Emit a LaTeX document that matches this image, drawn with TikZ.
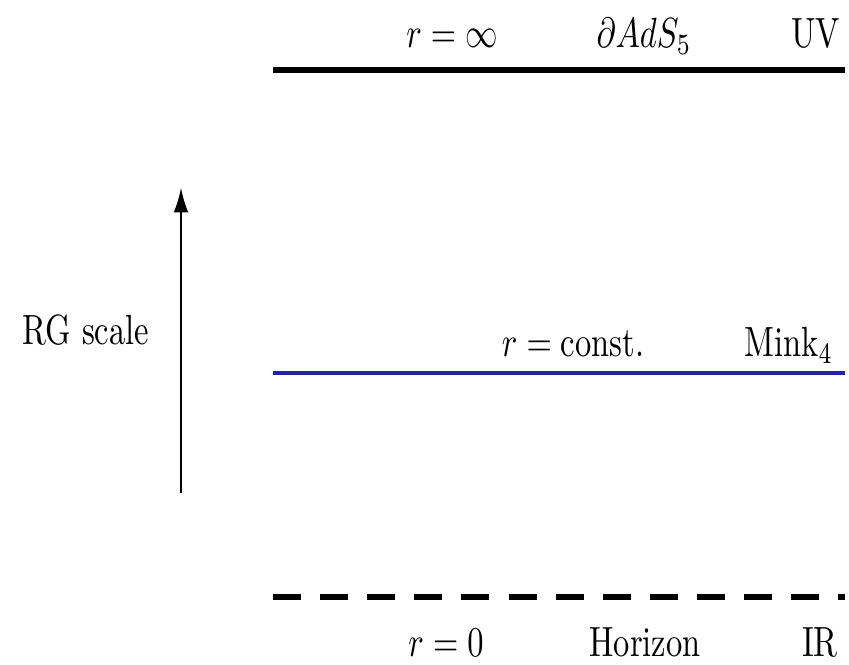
\documentclass[tikz,border=0pt]{standalone}
\usepackage{amsmath,amssymb}
\usepackage{tikz}
\usepackage{xcolor}
\usetikzlibrary{arrows.meta}
\definecolor{minkblue}{RGB}{35,35,170}
\begin{document}
\begin{tikzpicture}[x=0.3077pt, y=-0.3077pt,
  lbl/.style={inner sep=0pt, anchor=base, yscale=1.3},
  brane/.style={line width=1.8pt},
  rgarrow/.style={line width=0.45pt, -{Latex[length=7.5pt,width=4.5pt]}}]
\useasboundingbox (0,0) rectangle (849,665);
% boundary
\coordinate (uvl) at (273,70);
\coordinate (uvr) at (845,70);
\draw[brane] (uvl) -- (uvr);
\node[lbl] (rinf) at (452,48) {$r=\infty$};
\node[lbl] (bdry) at (644,48) {$\partial AdS_5$};
\node[lbl] (uv) at (816,48) {UV};
% cutoff slice
\coordinate (mkl) at (273,373);
\coordinate (mkr) at (845,373);
\draw[brane, line width=1.5pt, minkblue] (mkl) -- (mkr);
\node[lbl] (rconst) at (573,357) {$r=\text{const.}$};
\node[lbl] (mink) at (789,357) {Mink$_4$};
% horizon
\coordinate (irl) at (273,597);
\coordinate (irr) at (845,597);
\draw[brane, dash pattern=on 8.6pt off 5.9pt] (irl) -- (irr);
\node[lbl] (rzero) at (446,657) {$r=0$};
\node[lbl] (hor) at (645,657) {Horizon};
\node[lbl] (ir) at (820,657) {IR};
% flow
\coordinate (rgbot) at (181,493);
\coordinate (rgtop) at (181,188);
\draw[rgarrow] (rgbot) -- (rgtop);
\node[lbl] (rg) at (86,345) {RG scale};
\end{tikzpicture}
\end{document}
